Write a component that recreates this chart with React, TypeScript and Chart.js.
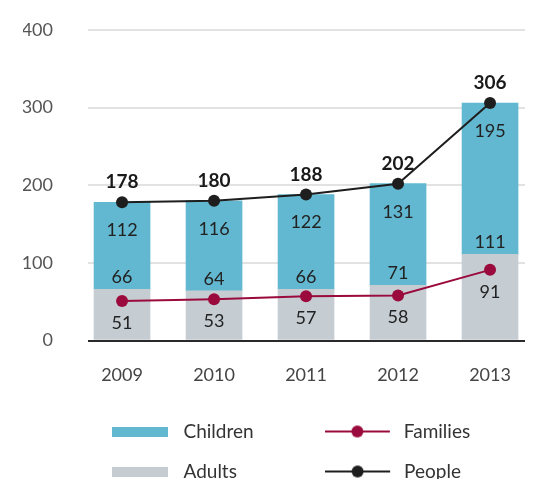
import React, { useEffect, useRef } from "react";
import { Chart, registerables } from "chart.js";
Chart.register(...registerables);

const years = ["2009", "2010", "2011", "2012", "2013"];
const adults = [66, 64, 66, 71, 111];
const children = [112, 116, 122, 131, 195];
const families = [51, 53, 57, 58, 91];
const people = [178, 180, 188, 202, 306];
const yMax = 400;
const yStep = 100;

const FONT = "Lato, 'Open Sans', sans-serif";
const BLUE = "#62b8d1";
const GRAY = "#c5cdd3";
const MAROON = "#9b0a3c";
const BLACK = "#1e1e1e";
const TEXT = "#222222";

function rectIcon(color: string) {
  const c = document.createElement("canvas");
  c.width = 59;
  c.height = 10;
  const ctx = c.getContext("2d")!;
  ctx.fillStyle = color;
  ctx.fillRect(0, 0, 56, 10);
  return c;
}

function lineIcon(color: string) {
  const c = document.createElement("canvas");
  c.width = 74;
  c.height = 14;
  const ctx = c.getContext("2d")!;
  ctx.strokeStyle = color;
  ctx.lineWidth = 2;
  ctx.beginPath();
  ctx.moveTo(0, 7);
  ctx.lineTo(65, 7);
  ctx.stroke();
  ctx.fillStyle = color;
  ctx.beginPath();
  ctx.arc(32.5, 7, 6, 0, Math.PI * 2);
  ctx.fill();
  return c;
}

function padTo(text: string, px: number, font: string) {
  const ctx = document.createElement("canvas").getContext("2d")!;
  ctx.font = font;
  let t = text;
  let n = 0;
  while (ctx.measureText(t + " ").width <= px && n < 60) {
    t += " ";
    n++;
  }
  n = 0;
  while (ctx.measureText(t + "\u200A").width <= px && n < 20) {
    const w0 = ctx.measureText(t).width;
    t += "\u200A";
    n++;
    if (ctx.measureText(t).width === w0) break;
  }
  return t;
}

const labelStyles: Record<string, { font: string; dy: number; color: string }> = {
  People: { font: `bold 19px ${FONT}`, dy: -20, color: "#1a1a1a" },
  Families: { font: `18px ${FONT}`, dy: 22, color: TEXT },
  Adults: { font: `18px ${FONT}`, dy: -12, color: TEXT },
  Children: { font: `18px ${FONT}`, dy: 28, color: TEXT },
};

const valueLabels = {
  id: "valueLabels",
  afterDatasetsDraw(chart: any) {
    const ctx = chart.ctx;
    ctx.save();
    ctx.textAlign = "center";
    ctx.textBaseline = "middle";
    chart.data.datasets.forEach((ds: any, di: number) => {
      const st = labelStyles[ds.label];
      if (!st) return;
      const meta = chart.getDatasetMeta(di);
      meta.data.forEach((el: any, i: number) => {
        ctx.font = st.font;
        ctx.fillStyle = st.color;
        ctx.fillText(String(ds.data[i].y), el.x, el.y + st.dy);
      });
    });
    ctx.restore();
  },
};

export default function App() {
  const ref = useRef<HTMLCanvasElement>(null);
  useEffect(() => {
    const legendFont = `19px ${FONT}`;
    const pts = (arr: number[]) => arr.map((v, i) => ({ x: i, y: v }));
    const chart = new Chart(ref.current!, {
      type: "bar",
      data: {
        datasets: [
          {
            type: "line",
            label: "Families",
            data: pts(families),
            borderColor: MAROON,
            backgroundColor: MAROON,
            borderWidth: 2,
            pointRadius: 6,
            pointBorderWidth: 0,
            pointBackgroundColor: MAROON,
            tension: 0,
            stack: "fam",
            order: 0,
          } as any,
          {
            type: "line",
            label: "People",
            data: pts(people),
            borderColor: BLACK,
            backgroundColor: BLACK,
            borderWidth: 2,
            pointRadius: 6,
            pointBorderWidth: 0,
            pointBackgroundColor: BLACK,
            tension: 0,
            stack: "ppl",
            order: 0,
          } as any,
          {
            type: "bar",
            label: "Adults",
            data: pts(adults),
            backgroundColor: GRAY,
            borderWidth: 0,
            barThickness: 56,
            stack: "bars",
            order: 1,
          } as any,
          {
            type: "bar",
            label: "Children",
            data: pts(children),
            backgroundColor: BLUE,
            borderWidth: 0,
            barThickness: 56,
            stack: "bars",
            order: 2,
          } as any,
        ],
      },
      options: {
        animation: false,
        responsive: false,
        maintainAspectRatio: false,
        events: [],
        layout: { padding: { left: 23, top: 30, right: 16, bottom: 4 } },
        scales: {
          x: {
            type: "linear",
            offset: false,
            min: -0.37,
            max: 4.38,
            grid: { display: false, drawTicks: false, offset: false },
            border: { display: false },
            afterBuildTicks: (s: any) => {
              s.ticks = years.map((_, i) => ({ value: i }));
            },
            afterFit: (s: any) => {
              s.height = 60.5;
            },
            ticks: {
              padding: 23.5,
              maxRotation: 0,
              autoSkip: false,
              color: "#444",
              font: { family: FONT, size: 18 },
              callback: (v: any) => years[v as number] ?? "",
            },
          },
          y: {
            stacked: true,
            min: 0,
            max: yMax,
            grid: {
              drawTicks: true,
              tickLength: 35,
              tickColor: "rgba(0,0,0,0)",
              lineWidth: 2,
              color: (c: any) => (c.tick && c.tick.value === 0 ? "#2a2a2a" : "#e2e2e2"),
            },
            border: { display: false },
            afterFit: (s: any) => {
              s.width = 65;
            },
            ticks: {
              stepSize: yStep,
              padding: 0,
              color: "#555",
              font: { family: FONT, size: 18 },
            },
          },
        },
        plugins: {
          tooltip: { enabled: false },
          legend: {
            position: "bottom",
            fullSize: false,
            align: "start",
            labels: {
              usePointStyle: true,
              pointStyleWidth: 65,
              padding: 21,
              color: "#333",
              font: { family: FONT, size: 19 },
              generateLabels: () => [
                { text: padTo("Children", 126, legendFont), pointStyle: rectIcon(BLUE), fillStyle: BLUE, strokeStyle: BLUE, lineWidth: 0, hidden: false, datasetIndex: 3, fontColor: "#333" },
                { text: "Families", pointStyle: lineIcon(MAROON), fillStyle: MAROON, strokeStyle: MAROON, lineWidth: 0, hidden: false, datasetIndex: 0, fontColor: "#333" },
                { text: padTo("Adults", 126, legendFont), pointStyle: rectIcon(GRAY), fillStyle: GRAY, strokeStyle: GRAY, lineWidth: 0, hidden: false, datasetIndex: 2, fontColor: "#333" },
                { text: "People", pointStyle: lineIcon(BLACK), fillStyle: BLACK, strokeStyle: BLACK, lineWidth: 0, hidden: false, datasetIndex: 1, fontColor: "#333" },
              ] as any,
            },
          },
        },
      } as any,
      plugins: [valueLabels],
    });
    return () => chart.destroy();
  }, []);
  return (
    <div style={{ position: "fixed", left: 0, top: 0, width: 541, height: 495 }}>
      <canvas ref={ref} width={541} height={495} style={{ display: "block", width: 541, height: 495 }} />
    </div>
  );
}
